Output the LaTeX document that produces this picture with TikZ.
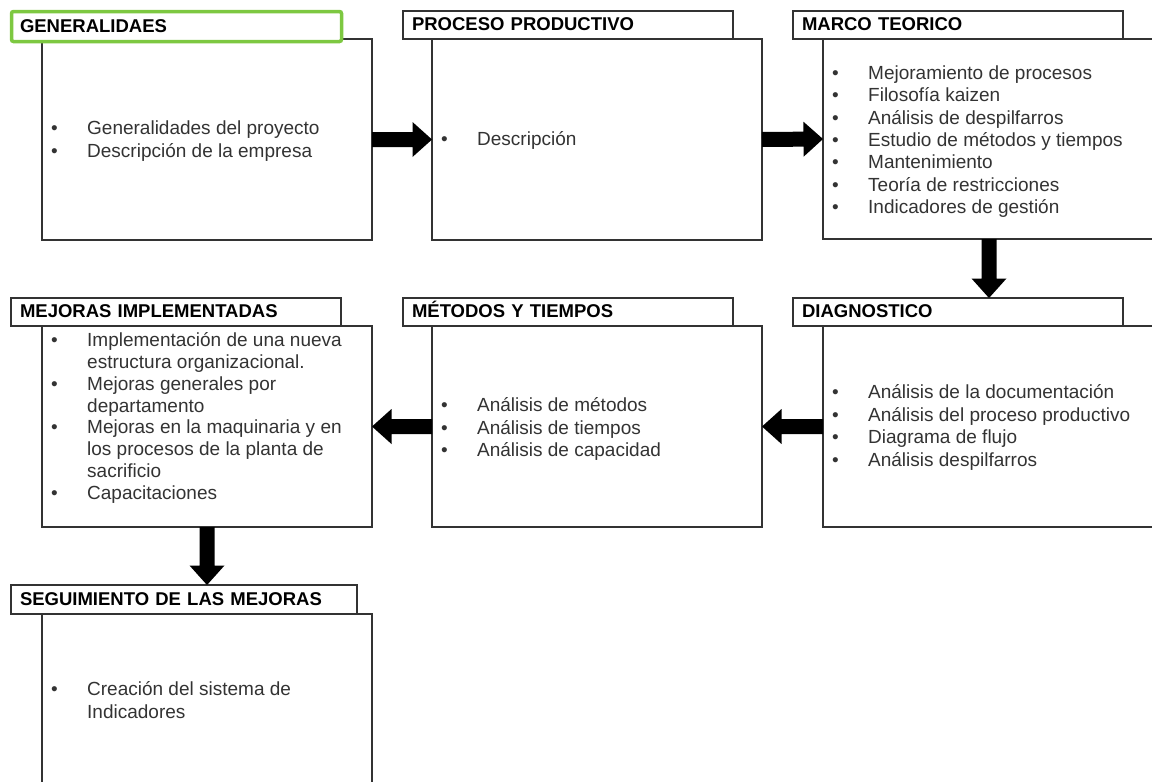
\documentclass[tikz,border=0pt]{standalone}
\usepackage{fontspec}
\setmainfont{Liberation Sans}
\usetikzlibrary{calc}
\definecolor{hdgreen}{RGB}{125,200,65}
\newcommand{\bl}[1]{\makebox[36pt][l]{\textbullet}#1}
\newcommand{\cl}[1]{\hspace*{36pt}#1}
\newcommand{\blockarrow}[2]{%
  \coordinate (ah) at ($(#2)!19.5pt!(#1)$);
  \fill[arrowfill] ($(#1)!7.5pt!90:(#2)$) -- ($(ah)!7.5pt!90:(#2)$) -- ($(ah)!17.5pt!90:(#2)$) -- (#2)
    -- ($(ah)!17.5pt!-90:(#2)$) -- ($(ah)!7.5pt!-90:(#2)$) -- ($(#1)!7.5pt!-90:(#2)$) -- cycle;}
\begin{document}
\begin{tikzpicture}[x=1pt,y=-1pt,
  body/.style={draw=black!80, line width=1.3pt, fill=white, rectangle, anchor=north west,
    minimum width=330pt, minimum height=201pt, inner sep=0pt, outer sep=0pt},
  head/.style={draw=black!80, line width=1.3pt, fill=white, rectangle, anchor=north west,
    text width=312pt, inner xsep=9pt, inner ysep=0pt, minimum height=28pt, align=left,
    text height=14.5pt, text depth=3pt,
    font=\fontsize{18.5}{22}\selectfont\bfseries, outer sep=0pt},
  items/.style={anchor=west, align=left, inner sep=0pt,
    font=\fontsize{19}{22.4}\selectfont, text=black!80},
  arrowfill/.style={fill=black},
]
\useasboundingbox (0,0) rectangle (1152,782);
\clip (0,0) rectangle (1152,782);

% bodies
\node[body] (b1) at (42,39) {};
\node[body] (b2) at (432,39) {};
\node[body, minimum width=332pt, minimum height=200pt] (b3) at (823,39) {};
\node[body] (b4) at (42,326) {};
\node[body] (b5) at (432,326) {};
\node[body, minimum width=332pt] (b6) at (823,326) {};
\node[body, minimum height=200pt] (b7) at (42,614) {};

% headers
\node[head, draw=hdgreen, line width=3.5pt, rounded corners=2pt, minimum height=30pt, inner xsep=8.5pt, text width=313pt] (h1) at (11.5,11.5) {GENERALIDAES};
\node[head] (h2) at (403,11) {PROCESO PRODUCTIVO};
\node[head] (h3) at (793,11) {MARCO TEORICO};
\node[head] (h4) at (793,298) {DIAGNOSTICO};
\node[head] (h5) at (403,298) {MÉTODOS Y TIEMPOS};
\node[head] (h6) at (11,298) {MEJORAS IMPLEMENTADAS};
\node[head, text width=328pt, minimum height=29pt] (h7) at (11,585) {SEGUIMIENTO DE LAS MEJORAS};

% items
\node[items] (i1) at (51,141) {\bl{Generalidades del proyecto}\\\bl{Descripción de la empresa}};
\node[items] (i2) at (441,140) {\bl{Descripción}};
\node[items] (i3) at (832,141.5) {\bl{Mejoramiento de procesos}\\\bl{Filosofía kaizen}\\\bl{Análisis de despilfarros}\\\bl{Estudio de métodos y tiempos}\\\bl{Mantenimiento}\\\bl{Teoría de restricciones}\\\bl{Indicadores de gestión}};
\node[items] (i4) at (832,427.5) {\bl{Análisis de la documentación}\\\bl{Análisis del proceso productivo}\\\bl{Diagrama de flujo}\\\bl{Análisis despilfarros}};
\node[items] (i5) at (441,429) {\bl{Análisis de métodos}\\\bl{Análisis de tiempos}\\\bl{Análisis de capacidad}};
\node[items, font=\fontsize{19}{21.8}\selectfont] (i6) at (51,418) {\bl{Implementación de una nueva}\\\cl{estructura organizacional.}\\\bl{Mejoras generales por}\\\cl{departamento}\\\bl{Mejoras en la maquinaria y en}\\\cl{los procesos de la planta de}\\\cl{sacrificio}\\\bl{Capacitaciones}};
\node[items] (i7) at (51,700) {\bl{Creación del sistema de}\\\cl{Indicadores}};

% connectors
\coordinate (t3) at (b3.south |- h4.north);
\coordinate (t6) at (b4.south |- h7.north);
\blockarrow{b1.east}{b2.west}
\blockarrow{b2.east}{b3.west}
\blockarrow{b3.south}{t3}
\blockarrow{b6.west}{b5.east}
\blockarrow{b5.west}{b4.east}
\blockarrow{b4.south}{t6}
\end{tikzpicture}
\end{document}
